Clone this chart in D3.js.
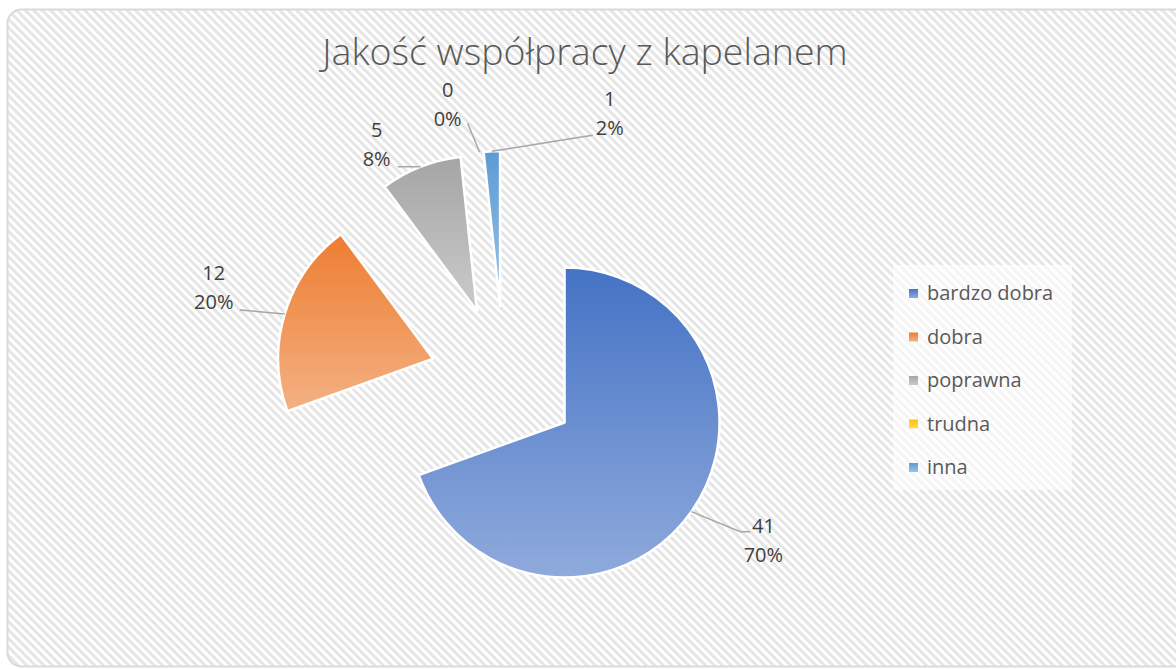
<!DOCTYPE html>
<html>
<head>
<meta charset="utf-8">
<script src="https://cdn.jsdelivr.net/npm/d3@7"></script>
<style>
  body { margin: 0; background: #fff; }
  svg { display: block; }
</style>
</head>
<body>
<svg></svg>
<script>
const width = 1176;
const height = 669;

// Data
const categories = ["bardzo dobra", "dobra", "poprawna", "trudna", "inna"];
const counts = [41, 12, 5, 0, 1];
const percentLabels = ["70%", "20%", "8%", "0%", "2%"];

// Colours (top / bottom of the gradient)
const colorsTop = ["#4472C4", "#ED7D31", "#A5A5A5", "#FFC000", "#5B9BD5"];
const colorsBottom = ["#8FAADC", "#F4B183", "#CBCBCB", "#FFD966", "#9DC3E6"];

// Label offsets from the slice's outer edge (layout only)
const labelOffsets = [[72, 28], [-71, -27], [-44, -23], [-32, -48], [118, -38]];
const leaderPoints = [
    [[49, 20], [59, 20]],
    [[-45, -4]],
    [[-23, 0]],
    [[-12, -29]],
    [[88, -14], [101, -16]]
];

const svg = d3.select("svg")
    .attr("width", width)
    .attr("height", height)
    .attr("viewBox", `0 0 ${width} ${height}`);

const defs = svg.append("defs");

// Diagonal hatch background
const pat = defs.append("pattern")
    .attr("id", "hatch")
    .attr("patternUnits", "userSpaceOnUse")
    .attr("width", 6)
    .attr("height", 6)
    .attr("patternTransform", "rotate(45)");
pat.append("rect").attr("width", 6).attr("height", 6).attr("fill", "#ffffff");
pat.append("rect").attr("width", 6).attr("height", 3).attr("fill", "#e6e6e6");

// Gradients for slices
categories.forEach(function(c, i) {
    const g = defs.append("linearGradient")
        .attr("id", "grad" + i)
        .attr("x1", 0).attr("y1", 0).attr("x2", 0).attr("y2", 1);
    g.append("stop").attr("offset", "0%").attr("stop-color", colorsTop[i]);
    g.append("stop").attr("offset", "100%").attr("stop-color", colorsBottom[i]);
});

// Chart area
svg.append("rect")
    .attr("x", 7.5)
    .attr("y", 9.5)
    .attr("width", 1185)
    .attr("height", 657)
    .attr("rx", 14)
    .attr("fill", "url(#hatch)")
    .attr("stroke", "#d9d9d9")
    .attr("stroke-width", 2);

// Title
svg.append("text")
    .attr("x", 585)
    .attr("y", 65)
    .attr("text-anchor", "middle")
    .attr("font-family", "'Open Sans', sans-serif")
    .attr("font-weight", 300)
    .attr("font-size", "37.5px")
    .attr("fill", "#595959")
    .text("Jakość współpracy z kapelanem");

// Pie
const cx = 504, cy = 380;
const radius = 155;
const explode = 74;

const data = categories.map(function(c, i) {
    return { name: c, value: counts[i], pct: percentLabels[i], i: i };
});

const pie = d3.pie().sort(null).value(d => d.value);
const arcs = pie(data);
const arc = d3.arc().innerRadius(0).outerRadius(radius);

const g = svg.append("g").attr("transform", `translate(${cx},${cy})`);

function dir(a) { return [Math.sin(a), -Math.cos(a)]; }

arcs.forEach(function(a) {
    const mid = (a.startAngle + a.endAngle) / 2;
    const [ux, uy] = dir(mid);
    a.ox = ux * explode;
    a.oy = uy * explode;
    a.px = a.ox + ux * radius;
    a.py = a.oy + uy * radius;
});

g.selectAll("path.slice")
    .data(arcs.filter(a => a.value > 0))
    .join("path")
    .attr("class", "slice")
    .attr("transform", d => `translate(${d.ox},${d.oy})`)
    .attr("d", arc)
    .attr("fill", d => `url(#grad${d.data.i})`)
    .attr("stroke", "#ffffff")
    .attr("stroke-width", 2.5)
    .attr("stroke-linejoin", "round");

// Leader lines
g.selectAll("polyline.leader")
    .data(arcs)
    .join("polyline")
    .attr("class", "leader")
    .attr("points", function(d) {
        const pts = [[d.px, d.py]].concat(leaderPoints[d.data.i].map(p => [d.px + p[0], d.py + p[1]]));
        return pts.map(p => p.join(",")).join(" ");
    })
    .attr("fill", "none")
    .attr("stroke", "#a6a6a6")
    .attr("stroke-width", 1.5);

// Data labels
const lbl = g.selectAll("text.lbl")
    .data(arcs)
    .join("text")
    .attr("class", "lbl")
    .attr("text-anchor", "middle")
    .attr("font-family", "'Open Sans', sans-serif")
    .attr("font-size", "20px")
    .attr("fill", "#404040");
lbl.append("tspan")
    .attr("x", d => d.px + labelOffsets[d.data.i][0])
    .attr("y", d => d.py + labelOffsets[d.data.i][1] - 7)
    .text(d => d.data.value);
lbl.append("tspan")
    .attr("x", d => d.px + labelOffsets[d.data.i][0])
    .attr("y", d => d.py + labelOffsets[d.data.i][1] + 22)
    .text(d => d.data.pct);

// Legend
const legend = svg.append("g").attr("transform", "translate(893,265)");
legend.append("rect")
    .attr("width", 179)
    .attr("height", 225)
    .attr("fill", "#ffffff")
    .attr("fill-opacity", 0.6);

const legendY = d3.scalePoint()
    .domain(categories)
    .range([28, 202]);

const item = legend.selectAll("g.item")
    .data(data)
    .join("g")
    .attr("class", "item")
    .attr("transform", d => `translate(0,${legendY(d.name)})`);
item.append("rect")
    .attr("x", 16)
    .attr("y", -4)
    .attr("width", 9)
    .attr("height", 9)
    .attr("fill", d => `url(#grad${d.i})`);
item.append("text")
    .attr("x", 34)
    .attr("y", 7)
    .attr("font-family", "'Open Sans', sans-serif")
    .attr("font-size", "20px")
    .attr("fill", "#595959")
    .text(d => d.name);
</script>
</body>
</html>
